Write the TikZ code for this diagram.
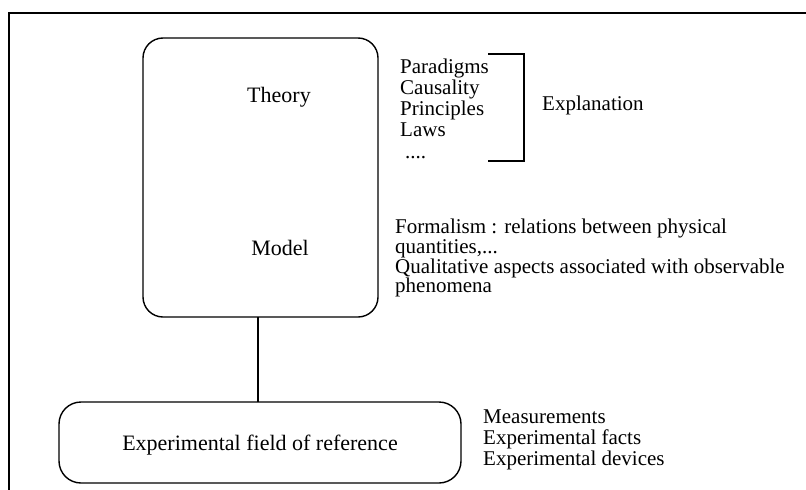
\documentclass[tikz,border=0pt]{standalone}
\usepackage{fontspec}
\setmainfont{Liberation Serif}
\begin{document}
\begin{tikzpicture}[x=1pt,y=-1pt,
  box/.style={draw,line width=1.4pt,rounded corners=20pt},
  lbl/.style={font=\fontsize{22}{22}\selectfont,inner sep=0pt,anchor=base},
  ln/.style={font=\fontsize{21}{21}\selectfont,inner sep=0pt,anchor=base west}]
\useasboundingbox (0,0) rectangle (806,490);
% frame
\draw[line width=1.6pt] (9,490) -- (9,13) -- (806,13);
% big box
\draw[box] (143,38) rectangle (378,317);
\coordinate (bigbot) at (258,317);
\node[lbl] (theory) at (279,102) {Theory};
\node[lbl] (model) at (280,255) {Model};
% bottom box
\draw[box,rounded corners=22pt] (59,402) rectangle (461,483);
\coordinate (smalltop) at (258,402);
\node[lbl] (exp) at (260,450) {Experimental field of reference};
\draw[line width=1.2pt] (bigbot) -- (smalltop);
% list
\node[ln] (l1) at (400,73) {Paradigms};
\node[ln] (l2) at (400,94) {Causality};
\node[ln] (l3) at (400,115) {Principles};
\node[ln] (l4) at (400,136) {Laws};
\node[ln] (l5) at (405,158) {....};
% bracket
\coordinate (b1) at (488,54);
\coordinate (b2) at (524,54);
\coordinate (b3) at (524,161);
\coordinate (b4) at (488,161);
\draw[line width=1.6pt] (b1) -- (b2) -- (b3) -- (b4);
\node[ln] (expl) at (542,110) {Explanation};
% formalism
\node[ln] (f1) at (395,233) {Formalism : relations between physical};
\node[ln] (f2) at (395,253) {quantities,...};
\node[ln] (f3) at (395,273) {Qualitative aspects associated with observable};
\node[ln] (f4) at (395,292) {phenomena};
% measurements
\node[ln] (m1) at (483,423) {Measurements};
\node[ln] (m2) at (483,444) {Experimental facts};
\node[ln] (m3) at (483,465) {Experimental devices};
\end{tikzpicture}
\end{document}
